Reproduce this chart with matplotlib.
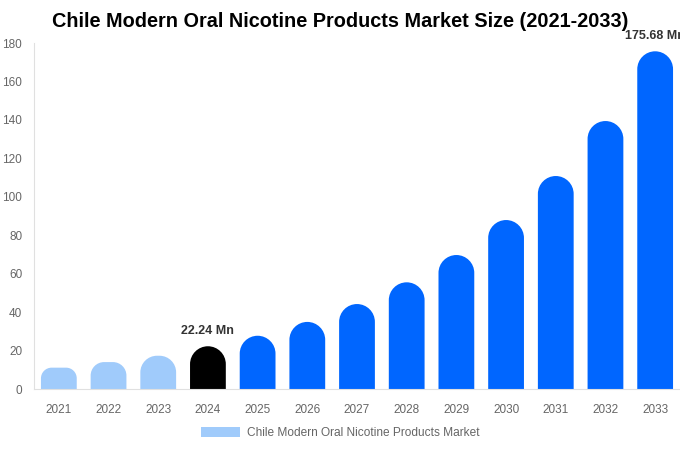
import matplotlib.pyplot as plt
from matplotlib.path import Path
from matplotlib.patches import PathPatch, Patch

years = ['2021', '2022', '2023', '2024', '2025', '2026', '2027',
         '2028', '2029', '2030', '2031', '2032', '2033']
values = [11.1, 14.0, 17.3, 22.24, 27.7, 34.9, 44.2, 55.5, 69.7, 87.9, 110.8, 139.4, 175.68]
colors = ['#a0cbfb'] * 3 + ['#000000'] + ['#0066ff'] * 9
labels = {3: '22.24 Mn', 12: '175.68 Mn'}

plt.rcParams['font.family'] = ['Liberation Sans', 'DejaVu Sans']

fig = plt.figure(figsize=(6.8, 4.5), dpi=100)
ax = fig.add_axes([34 / 680, 61 / 450, 646 / 680, 346 / 450])
ax.set_xlim(-0.5, len(years) - 0.5)
ax.set_ylim(0, 180)

# pixels per data unit, to keep the bar tops round on screen
px_x = 646 / len(years)
px_y = 346 / 180
width = 0.72
K = 0.5523


def rounded_bar(x, h, color):
    x0, x1 = x - width / 2, x + width / 2
    r_px = min(width * px_x / 2, h * px_y / 2)
    rx = r_px / px_x
    ry = r_px / px_y
    verts = [(x0, 0), (x0, h - ry),
             (x0, h - ry + K * ry), (x0 + rx - K * rx, h), (x0 + rx, h),
             (x1 - rx, h),
             (x1 - rx + K * rx, h), (x1, h - ry + K * ry), (x1, h - ry),
             (x1, 0), (x0, 0)]
    codes = [Path.MOVETO, Path.LINETO,
             Path.CURVE4, Path.CURVE4, Path.CURVE4,
             Path.LINETO,
             Path.CURVE4, Path.CURVE4, Path.CURVE4,
             Path.LINETO, Path.CLOSEPOLY]
    ax.add_patch(PathPatch(Path(verts, codes), facecolor=color, edgecolor='none'))


for i, v in enumerate(values):
    rounded_bar(i, v, colors[i])
    if i in labels:
        ax.text(i, v + 5, labels[i], ha='center', va='bottom', fontsize=9,
                fontweight='bold', color='#333333', clip_on=False)

ax.set_xticks(range(len(years)))
ax.set_xticklabels(years)
ax.set_yticks(range(0, 181, 20))
ax.tick_params(axis='both', length=0, labelsize=8.5, labelcolor='#666666')
ax.tick_params(axis='x', pad=11)
ax.tick_params(axis='y', pad=8.5)
for s in ['top', 'right']:
    ax.spines[s].set_visible(False)
ax.spines['left'].set_color('#e0e0e0')
ax.spines['bottom'].set_color('#e0e0e0')

fig.text(0.5, 0.953, 'Chile Modern Oral Nicotine Products Market Size (2021-2033)',
         ha='center', va='center', fontsize=14.3, fontweight='bold', color='#000000')

fig.legend(handles=[Patch(facecolor='#a0cbfb', label='Chile Modern Oral Nicotine Products Market')],
           loc='center', bbox_to_anchor=(0.5, 0.037), frameon=False, fontsize=8.6,
           labelcolor='#666666', handlelength=3.27, handleheight=0.92, handletextpad=0.55)

fig.savefig('out.png', dpi=100)
